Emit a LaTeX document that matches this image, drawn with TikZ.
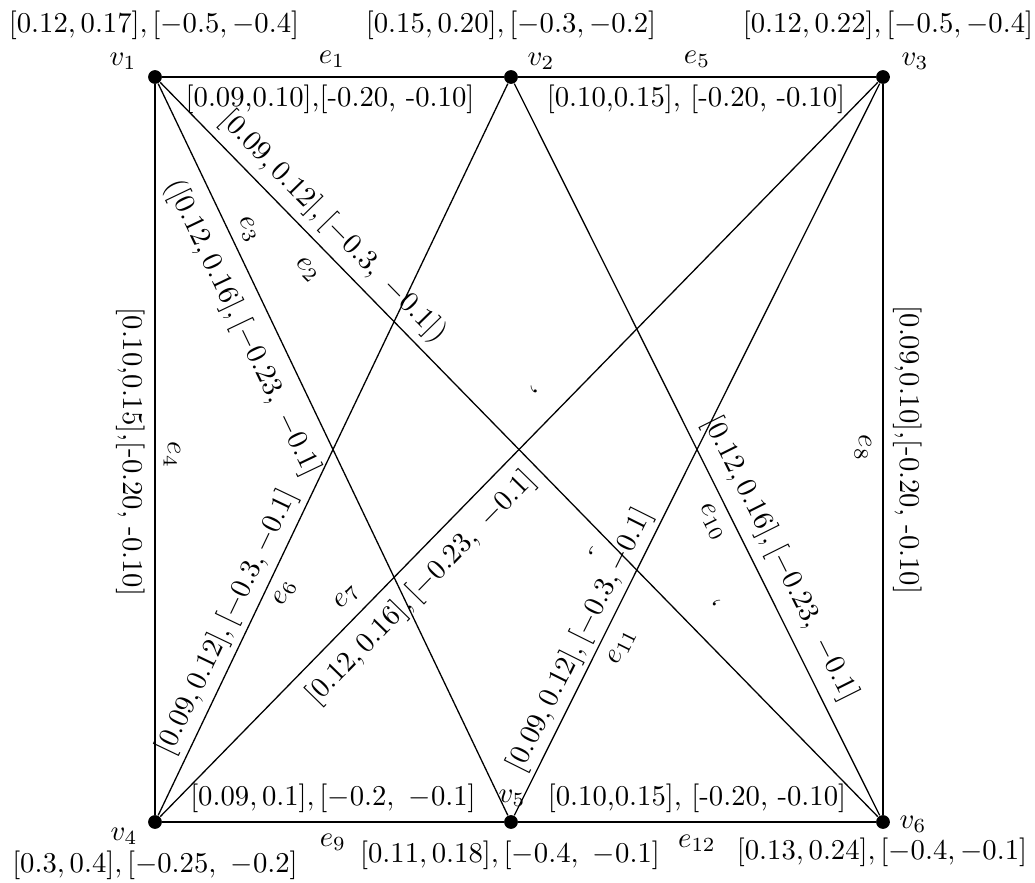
\documentclass[tikz,border=0pt]{standalone}
\begin{document}
\begin{tikzpicture}[x=0.3484pt,y=-0.3484pt,
  dot/.style={circle,fill=black,inner sep=0pt,minimum size=4.8pt},
  lbl/.style={inner sep=0pt},
  edge/.style={line width=0.45pt}]
\useasboundingbox (0,0) rectangle (1035,883);
% vertices
\node[dot] (v1) at (155,77) {};
\node[dot] (v2) at (511,77) {};
\node[dot] (v3) at (883,77) {};
\node[dot] (v4) at (155,822) {};
\node[dot] (v5) at (511,822) {};
\node[dot] (v6) at (883,822) {};
% edges
\draw[edge] (v1) -- (v2);
\draw[edge] (v2) -- (v3);
\draw[edge] (v1) -- (v4);
\draw[edge] (v3) -- (v6);
\draw[edge] (v4) -- (v5);
\draw[edge] (v5) -- (v6);
\draw[edge] (v1) -- (v6);
\draw[edge] (v1) -- (v5);
\draw[edge] (v4) -- (v2);
\draw[edge] (v4) -- (v3);
\draw[edge] (v2) -- (v6);
\draw[edge] (v5) -- (v3);
% vertex names
\node[lbl] (n1) at (123,61) {$v_1$};
\node[lbl] (n2) at (541,61) {$v_2$};
\node[lbl] (n3) at (915,61) {$v_3$};
\node[lbl] (n4) at (124,836) {$v_4$};
\node[lbl] (n5) at (512,798) {$v_5$};
\node[lbl] (n6) at (913,824) {$v_6$};
% vertex intervals
\node[lbl] (i1) at (154,25) {$[0.12, 0.17], [-0.5, -0.4]$};
\node[lbl] (i2) at (511,25) {$[0.15, 0.20], [-0.3, -0.2]$};
\node[lbl] (i3) at (888,25) {$[0.12, 0.22], [-0.5, -0.4]$};
\node[lbl] (i4) at (155,865) {$[0.3, 0.4], [-0.25,\ -0.2]$};
\node[lbl] (i5) at (510,855) {$[0.11, 0.18], [-0.4,\ -0.1]$};
\node[lbl] (i6) at (882,852) {$[0.13, 0.24], [-0.4, -0.1]$};
% edge names
\node[lbl] (e1) at (332,59) {$e_1$};
\node[lbl] (e5) at (697,59) {$e_5$};
\node[lbl] (e9) at (333,842) {$e_9$};
\node[lbl] (e12) at (697,843) {$e_{12}$};
\node[lbl,rotate=-90] (e4) at (172,455) {$e_4$};
\node[lbl,rotate=-90] (e8) at (863,448) {$e_8$};
\node[lbl,rotate=-45.66] (e2) at (307,270) {$e_2$};
\node[lbl,rotate=-64.46] (e3) at (248,230) {$e_3$};
\node[lbl,rotate=64.46] (e6) at (285,593) {$e_6$};
\node[lbl,rotate=45.66] (e7) at (347,597) {$e_7$};
\node[lbl,rotate=-63.47] (e10) at (712,522) {$e_{10}$};
\node[lbl,rotate=63.47] (e11) at (622,647) {$e_{11}$};
% edge intervals
\node[lbl] (l1) at (330,99) {[0.09,0.10],[-0.20, -0.10]};
\node[lbl] (l5) at (696,99) {[0.10,0.15], [-0.20, -0.10]};
\node[lbl] (l9) at (333,798) {$[0.09, 0.1], [-0.2,\ -0.1]$};
\node[lbl] (l12) at (697,798) {[0.10,0.15], [-0.20, -0.10]};
\node[lbl,rotate=-90] (l4) at (131,452) {[0.10,0.15],[-0.20, -0.10]};
\node[lbl,rotate=-90] (l8) at (908,450) {[0.09,0.10],[-0.20, -0.10]};
\node[lbl,rotate=-45.66] (l2) at (333,227) {$[0.09, 0.12], [-0.3,\ -0.1])$};
\node[lbl,rotate=-64.46] (l3) at (242,328) {$([0.12, 0.16], [-0.23,\ -0.1]$};
\node[lbl,rotate=64.46] (l6) at (227,622) {$[0.09, 0.12], [-0.3, -0.1]$};
\node[lbl,rotate=45.66] (l7) at (421,588) {$[0.12, 0.16], [-0.23,\ -0.1]$};
\node[lbl,rotate=-63.47] (l10) at (780,559) {$[0.12, 0.16], [-0.23,\ -0.1]$};
\node[lbl,rotate=63.47] (l11) at (580,640) {$[0.09, 0.12], [-0.3, -0.1]$};
% stray commas
\node[lbl,rotate=-135] (c1) at (534,389) {,};
\node[lbl,rotate=170] (c2) at (592,551) {,};
\node[lbl,rotate=130] (c3) at (717,603) {,};
\end{tikzpicture}
\end{document}
